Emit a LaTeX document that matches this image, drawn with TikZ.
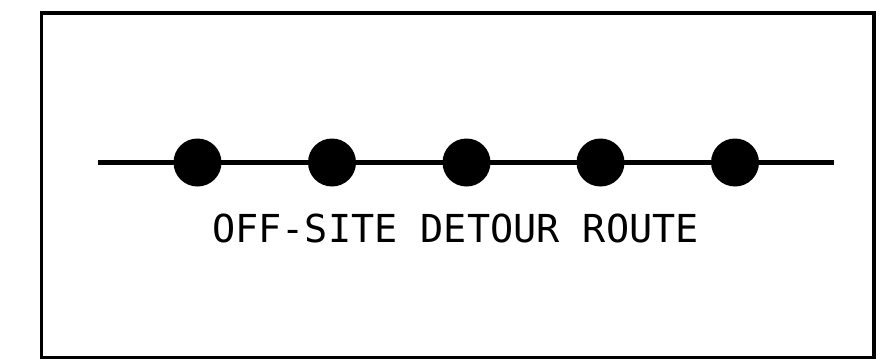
\documentclass[tikz,border=0pt]{standalone}
\usepackage{fontspec}
\newfontfamily\monofont{DejaVu Sans Mono}
\tikzset{
  dotnode/.style={circle,fill=black,inner sep=0pt,minimum size=48pt},
  frameline/.style={line width=3.5pt},
  routeline/.style={line width=4.5pt},
  labeltext/.style={font=\monofont\fontsize{38.5}{40}\selectfont,inner sep=0pt,anchor=base}
}
\begin{document}
\begin{tikzpicture}[x=1pt,y=-1pt]
\useasboundingbox (0,0) rectangle (882,361);
\draw[frameline] (41.5,13) rectangle (874,357.5);
\coordinate (ls) at (98,162.5);
\coordinate (le) at (834,162.5);
\draw[routeline] (ls) -- (le);
\node[dotnode] (d1) at (197.5,162.5) {};
\node[dotnode] (d2) at (332,162.5) {};
\node[dotnode] (d3) at (466.5,162.5) {};
\node[dotnode] (d4) at (600.5,162.5) {};
\node[dotnode] (d5) at (735,162.5) {};
\node[labeltext] (lbl) at (455.5,242) {OFF-SITE DETOUR ROUTE};
\end{tikzpicture}
\end{document}
